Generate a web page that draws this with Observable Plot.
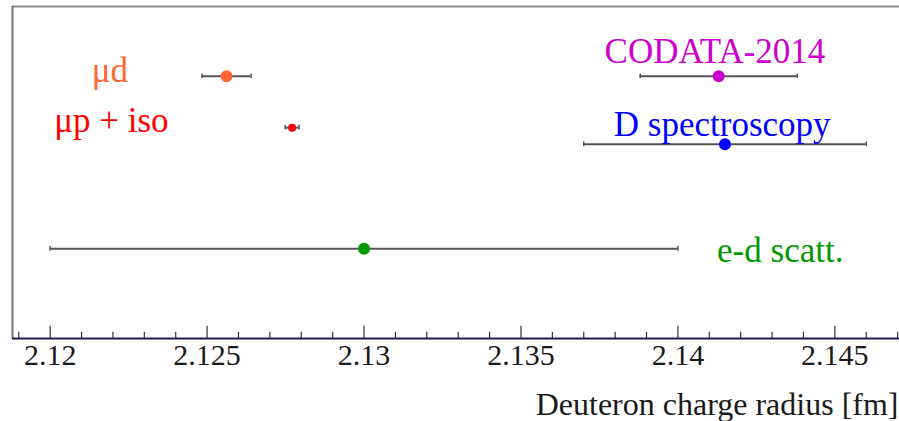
<!DOCTYPE html>
<html>
<head>
<meta charset="utf-8">
<script src="https://cdn.jsdelivr.net/npm/d3@7"></script>
<script src="https://cdn.jsdelivr.net/npm/@observablehq/plot@0.6"></script>
<style>
  html, body { margin: 0; padding: 0; background: #fff; }
  #chart { width: 899px; height: 421px; }
</style>
</head>
<body>
<div id="chart"></div>
<script>
// Measurements: deuteron charge radius [fm]
const categories  = ["μd", "μp + iso", "CODATA-2014", "D spectroscopy", "e-d scatt."];
const radius      = [2.12562, 2.12771, 2.1413, 2.1415, 2.130];
const uncertainty = [0.00078, 0.00022, 0.0025, 0.0045, 0.010];
const rows        = [7.9, 6.35, 7.9, 5.85, 2.7];          // vertical slot of each point
const colors      = ["#ff6633", "#ff0000", "#cc00cc", "#0000ff", "#009900"];
const dotRadius   = [6, 4, 6, 6, 6];
// label anchor (data units) for each category
const labelX      = [2.1219, 2.12195, 2.14118, 2.14141, 2.14326];
const labelY      = [7.72, 6.21, 8.29, 6.11, 2.30];

// axis
const xDomain     = [2.1188, 2.14706];
const yDomain     = [0, 10];
const majorTicks  = [2.12, 2.125, 2.13, 2.135, 2.14, 2.145];
const tickLabels  = ["2.12", "2.125", "2.13", "2.135", "2.14", "2.145"];
const minorTicks  = [2.119, 2.121, 2.122, 2.123, 2.124, 2.126, 2.127, 2.128, 2.129,
                     2.131, 2.132, 2.133, 2.134, 2.136, 2.137, 2.138, 2.139,
                     2.141, 2.142, 2.143, 2.144, 2.146, 2.147];
const axisTitle   = "Deuteron charge radius [fm]";

const serif = "Liberation Serif";

const points = categories.map((name, i) => ({
  name, r: radius[i], e: uncertainty[i], row: rows[i], color: colors[i], size: dotRadius[i],
  lx: labelX[i], ly: labelY[i]
}));

const chart = Plot.plot({
  width: 899,
  height: 421,
  marginLeft: 12,
  marginRight: 0,
  marginTop: 6,
  marginBottom: 83,
  style: { fontFamily: serif, background: "#fff" },
  x: { type: "linear", domain: xDomain, axis: null },
  y: { domain: yDomain, axis: null },
  color: { type: "identity" },
  r: { type: "identity" },
  marks: [
    // frame: top and left borders
    Plot.ruleY([yDomain[1]], { stroke: "#8a8a8a", strokeWidth: 2 }),
    Plot.ruleX([xDomain[0]], { stroke: "#777", strokeWidth: 2 }),
    // ticks pointing up from the axis
    Plot.ruleX(majorTicks, { y1: yDomain[0], y2: 0.37, stroke: "#333", strokeWidth: 1.2 }),
    Plot.ruleX(minorTicks, { y1: yDomain[0], y2: 0.19, stroke: "#333", strokeWidth: 1.2 }),
    // bottom axis line
    Plot.ruleY([yDomain[0]], { stroke: "#1e1e44", strokeWidth: 2 }),
    // tick labels
    Plot.text(majorTicks, {
      x: d => d, text: (d, i) => tickLabels[i], frameAnchor: "bottom",
      lineAnchor: "top", dy: 5, fontSize: 30, fill: "#1a1a1a", fontFamily: serif
    }),
    // error bars
    Plot.ruleY(points, { y: "row", x1: d => d.r - d.e, x2: d => d.r + d.e, stroke: "#555", strokeWidth: 2 }),
    Plot.ruleX(points, { x: d => d.r - d.e, y1: d => d.row - 0.07, y2: d => d.row + 0.07, stroke: "#555", strokeWidth: 1.5 }),
    Plot.ruleX(points, { x: d => d.r + d.e, y1: d => d.row - 0.07, y2: d => d.row + 0.07, stroke: "#555", strokeWidth: 1.5 }),
    // central values
    Plot.dot(points, { x: "r", y: "row", r: "size", fill: "color", stroke: null }),
    // labels
    Plot.text(points, {
      x: "lx", y: "ly", text: "name", fill: "color", fontFamily: serif,
      fontSize: 35, textAnchor: "middle", lineAnchor: "bottom"
    }),
    // axis title
    Plot.text([axisTitle], {
      frameAnchor: "bottom-right", textAnchor: "end", lineAnchor: "bottom", fontFamily: serif,
      dx: -1, dy: 76, fontSize: 32, fill: "#1a1a1a"
    })
  ]
});
document.getElementById("chart").appendChild(chart);
</script>
</body>
</html>
